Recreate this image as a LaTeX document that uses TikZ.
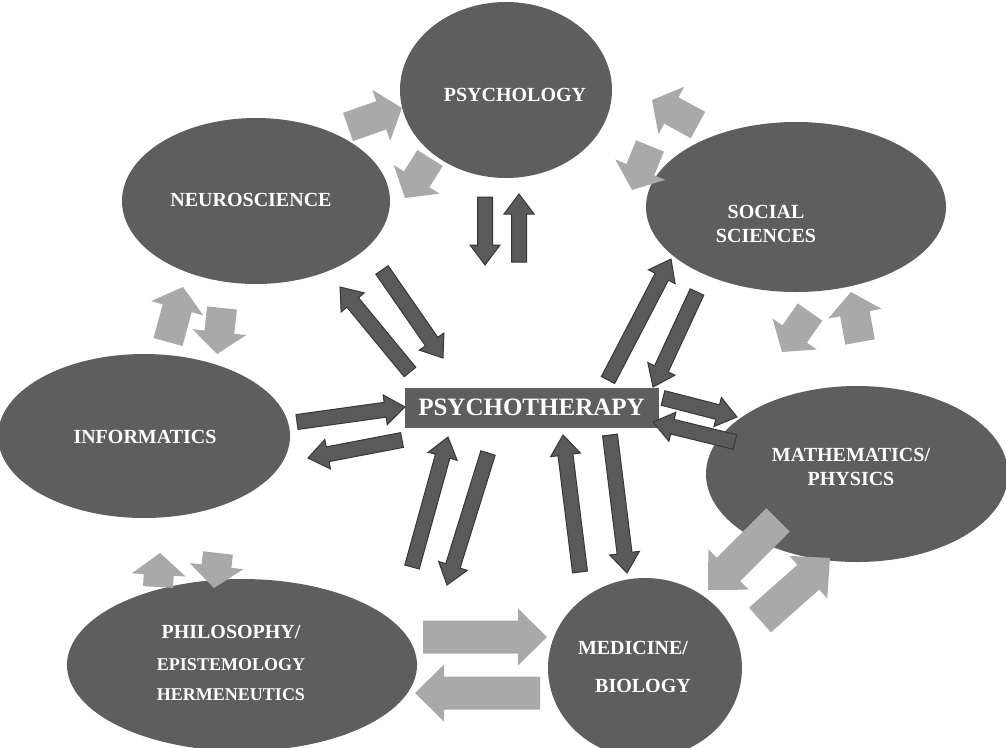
\documentclass[tikz,border=0pt]{standalone}
\usepackage{fontspec}
\setmainfont{Liberation Serif}
\usetikzlibrary{shapes.geometric,calc}
\definecolor{ellfill}{HTML}{5E5E5E}
\definecolor{darrfill}{HTML}{5A5A5A}
\definecolor{darrline}{HTML}{383838}
\definecolor{larrfill}{HTML}{A9A9A9}
\newcommand{\blockarr}[6]{%
  \coordinate (bah) at ($(#3)!#6!(#2)$);
  \draw[#1] ($(#2)!#4!90:(#3)$) -- ($(bah)!#4!90:(#3)$) -- ($(bah)!#5!90:(#3)$) -- (#3)
    -- ($(bah)!#5!-90:(#3)$) -- ($(bah)!#4!-90:(#3)$) -- ($(#2)!#4!-90:(#3)$) -- cycle;}
\tikzset{
  discipline/.style={ellipse, fill=ellfill, inner sep=0pt},
  lbl/.style={text=white, font=\bfseries\fontsize{20}{24}\selectfont, align=center, inner sep=0pt},
  lblsmall/.style={lbl, font=\bfseries\fontsize{18}{22}\selectfont},
  darkarr/.style={fill=darrfill, draw=darrline, line width=1pt, line join=miter},
  lightarr/.style={fill=larrfill, draw=none},
}
\begin{document}
\begin{tikzpicture}[x=1pt,y=-1pt]
\useasboundingbox (0,0) rectangle (1006,747);
\fill[white] (0,0) rectangle (1006,747);
% ellipses
\node[discipline, minimum width=212pt, minimum height=176pt] (psy) at (506,90) {};
\node[discipline, minimum width=268pt, minimum height=166pt] (neu) at (256,201) {};
\node[discipline, minimum width=300pt, minimum height=170pt] (soc) at (796,207) {};
\node[discipline, minimum width=292pt, minimum height=164pt] (inf) at (144,436) {};
\node[discipline, minimum width=302pt, minimum height=176pt] (mat) at (857,474) {};
\node[discipline, minimum width=350pt, minimum height=172pt] (phi) at (242,665) {};
\node[discipline, minimum width=194pt, minimum height=180pt] (med) at (645,668) {};
% labels
\node[lbl] (psyL) at (515,95) {PSYCHOLOGY};
\node[lbl] (neuL) at (251,200) {NEUROSCIENCE};
\node[lbl] (socL) at (766,224) {SOCIAL\\SCIENCES};
\node[lbl] (infL) at (145,437) {INFORMATICS};
\node[lbl] (matL) at (851,467) {MATHEMATICS/\\PHYSICS};
\node[lbl] (phiL1) at (231,632) {PHILOSOPHY/};
\node[lblsmall] (phiL2) at (231,665) {EPISTEMOLOGY};
\node[lblsmall] (phiL3) at (231,695) {HERMENEUTICS};
\node[lbl] (medL1) at (633,648) {MEDICINE/};
\node[lbl] (medL2) at (643,686) {BIOLOGY};
% centre
\node[fill=ellfill, text=white, font=\bfseries\fontsize{25}{27}\selectfont,
      minimum width=254pt, minimum height=40pt, inner sep=0pt] (pt) at (531.5,407.5) {PSYCHOTHERAPY};
% dark arrow end points
\coordinate (d1s) at (485,197); \coordinate (d1e) at (485,265);
\coordinate (d2s) at (519,262); \coordinate (d2e) at (519,194);
\coordinate (d3s) at (410,372); \coordinate (d3e) at (340,287);
\coordinate (d4s) at (382,270); \coordinate (d4e) at (443,358);
\coordinate (d5s) at (297,422); \coordinate (d5e) at (405,407);
\coordinate (d6s) at (402,440); \coordinate (d6e) at (308,458);
\coordinate (d7s) at (412,567); \coordinate (d7e) at (448,437);
\coordinate (d8s) at (488,453); \coordinate (d8e) at (447,585);
\coordinate (d9s) at (580,572); \coordinate (d9e) at (563,435);
\coordinate (d10s) at (610,435); \coordinate (d10e) at (627,573);
\coordinate (d11s) at (608,380); \coordinate (d11e) at (671,259);
\coordinate (d12s) at (697,292); \coordinate (d12e) at (653,387);
\coordinate (d13s) at (663,398); \coordinate (d13e) at (737,417);
\coordinate (d14s) at (735,442); \coordinate (d14e) at (653,422);
\foreach \i in {1,...,14}{\blockarr{darkarr}{d\i s}{d\i e}{7.5pt}{15pt}{20pt}}
% light arrow end points
\coordinate (l1s) at (348,127); \coordinate (l1e) at (402,108);
\coordinate (l2s) at (430,158); \coordinate (l2e) at (405,198);
\coordinate (l3s) at (698,125); \coordinate (l3e) at (652,100);
\coordinate (l4s) at (650,146); \coordinate (l4e) at (632,190);
\coordinate (l5s) at (810,312); \coordinate (l5e) at (782,352);
\coordinate (l6s) at (860,342); \coordinate (l6e) at (851,292);
\coordinate (l7s) at (168,342); \coordinate (l7e) at (183,287);
\coordinate (l8s) at (222,308); \coordinate (l8e) at (217,354);
\coordinate (l9s) at (158,587); \coordinate (l9e) at (160,553);
\coordinate (l10s) at (218,553); \coordinate (l10e) at (214,588);
\coordinate (l11s) at (423,637); \coordinate (l11e) at (547,637);
\coordinate (l12s) at (540,693); \coordinate (l12e) at (415,693);
\coordinate (l13s) at (778,520); \coordinate (l13e) at (708,590);
\coordinate (l14s) at (760,620); \coordinate (l14e) at (830,558);
\foreach \i in {1,...,10}{\blockarr{lightarr}{l\i s}{l\i e}{15pt}{27pt}{22pt}}
\foreach \i in {11,...,14}{\blockarr{lightarr}{l\i s}{l\i e}{16.5pt}{28.5pt}{29pt}}
\end{tikzpicture}
\end{document}
